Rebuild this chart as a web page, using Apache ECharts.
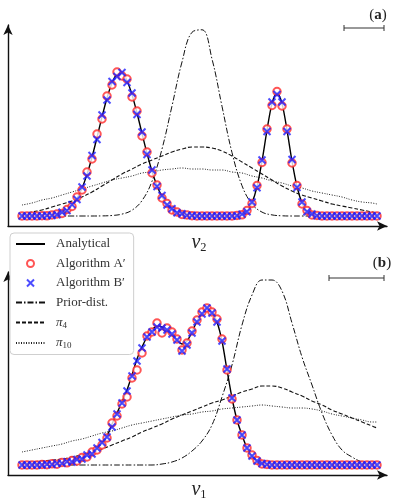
<!DOCTYPE html>
<html>
<head>
<meta charset="UTF-8">
<title>Analytical vs algorithms</title>
<style>
  html, body { margin: 0; padding: 0; background: #fff; }
  #chart { width: 399px; height: 504px; }
</style>
<script src="https://cdn.jsdelivr.net/npm/echarts@6/dist/echarts.min.js"></script>
</head>
<body>
<div id="chart"></div>
<script>
// marker grid: sample index 0..71 (one step = 5 px on screen)
const fineX = Array.from({ length: 72 }, (_, i) => i);
// coarser grid used for the broad curves
const coarseX = [0,2,4,6,8,10,12,14,16,18,20,22,24,26,28,30,32,34,36,38,40,42,44,46,48,50,52,54,56,58,60,62,64,66,68,70,71];

// ---- panel (a): marginal of v2 ----
const analyticA = [0,0,0,0.1,0.1,0.3,0.8,1.6,3.2,5.9,
  10.5,17.6,27.8,41.6,58.8,78.5,99.1,118,133,141.6,
  142.4,135.3,121.4,103,82.6,62.6,44.8,30.3,19.4,11.7,
  6.7,3.6,1.8,0.9,0.4,0.2,0,0,0,0,
  0,0,0.1,0.4,1.5,4.9,13.1,29.3,54.8,85.9,
  112.4,123,112.4,85.9,54.8,29.3,13.1,4.9,1.5,0.4,
  0,0,0,0,0,0,0,0,0,0,
  0,0];
const algA_A = [0,0,0,0,0.3,0.2,1,2,2.5,6.5,
  9.5,19,26,44,57,82,97,120,131,144,
  140,137,119,105,80,64,43,31,18,12.5,
  6,4,1.5,1,0.3,0,0,0,0,0,
  0,0,0,0.6,1.2,5.5,12.5,30.5,53.5,87,
  110.5,124.5,110,87,53,30.5,12,5.5,1,0.5,
  0,0,0,0,0,0,0,0,0,0,
  0,0];
const algB_A = [0,0,0,0,0,0.5,0.5,1.3,3.8,5.4,
  11.4,16.5,29,40,60.5,76.5,101,116,134.5,139.5,
  143.5,133.5,123,101.5,84,61.5,46,29.5,20.5,11,
  7.3,3.2,2.2,0.6,0.5,0,0,0,0,0,
  0,0,0,0.2,1.9,4.3,14,28.2,56,84.5,
  114,121.5,114,84.5,56.5,28.5,14,4.3,2,0.2,
  0,0,0,0,0,0,0,0,0,0,
  0,0];
const priorA = [0,0,0,0,0,0,0,0,0.1,0.5,
  1.9,5.8,15.4,34.7,67,110,154,183.7,186.2,157,
  109.7,63.4,30.3,12,3.9,1.1,0.2,0,0,0,
  0,0,0,0,0,0,0];
const pi4A = [2,4,6,9,12,15,19,24,30,36,
  42,47,52,56,60,64,67,69,69,68,
  65,60,54,48,42,36,30,25,21,18,
  15,12,10,8,6,4,3];
const pi10A = [11,13,16,18,21,24,27,30,33,36,
  38,40,43,44,46,47,48,47,47,46,
  46,44,43,40,38,35,33,30,28,25,
  23,21,19,16,14,13,12];

// ---- panel (b): marginal of v1 ----
const analyticB = [0,0,0,0,0.2,0.5,0.8,1.2,2,2.7,
  3.5,4.8,6.5,9,12,16,22,29,41,52,
  63,75,90,106,118,128,135,139,138,135,
  130,125,121,124,133,144,152,157,153,143,
  124,95,67,45,30,17,9,4,1.5,0.5,
  0,0,0,0,0,0,0,0,0,0,
  0,0,0,0,0,0,0,0,0,0,
  0,0];
const algA_B = [0,0,0,0,0.5,0.3,1.2,0.8,2.6,2.2,
  4.4,4,7.5,8,13,15,20,27,42,49,
  61,68,87,95,112,129,133,142,132,137,
  133,126,115,122,134,145,153,157,153,146,
  126,95,66,45,30,17,10,4.5,1,0.5,
  0,0,0,0,0,0,0,0,0,0,
  0,0,0,0,0,0,0,0,0,0,
  0,0];
const algB_B = [0,0,0,0,0,0.8,0.5,1.6,1.6,3.4,
  3,5.5,6,10,11,17,22.5,28,38,51,
  62,74,89,104,117,128,133,138,137,135,
  131,125,114,120,132,143,151,157,152,143,
  124,96,67,45,30,17,9,4,1.5,0.5,
  0,0,0,0,0,0,0,0,0,0,
  0,0,0,0,0,0,0,0,0,0,
  0,0];
const priorB = [0,0,0,0,0,0,0,0,0,0,
  0,0,0,0,1,3,7,14,24,40,
  68,100,140,170,185,185,174,142,108,80,
  52,30,15,8,3,1,0.5];
const pi4B = [2,3,4,5,6,8,10,13,16,20,
  24,28,33,37,41,46,50,54,58,62,
  65,69,73,76,79,79,77,73,69,64,
  60,55,51,47,43,39,37];
const pi10B = [13,15,17,19,21,24,26,29,32,34,
  37,40,42,44,46,48,50,51,53,54,
  56,57,58,59,60,59,58,57,57,56,
  54,51,49,47,45,43,43];

const seriesNames = ['Analytical', 'Algorithm A\u2032', 'Algorithm B\u2032', 'Prior-dist.', 'pi4', 'pi10'];

const serif = 'Liberation Serif';
const red = '#ff2b2b';
const blue = '#1f1fff';
const crossPath = 'path://M0,0L10,10M10,0L0,10';

function pairs(xs, ys) {
  return xs.map((x, i) => [x, ys[i]]);
}

function panelSeries(idx, analytic, algA, algB, prior, pi4, pi10) {
  const base = { xAxisIndex: idx, yAxisIndex: idx, animation: false };
  return [
    Object.assign({}, base, {
      name: seriesNames[0], type: 'line', data: pairs(fineX, analytic),
      symbol: 'none', smooth: 0.3, z: 3,
      lineStyle: { color: '#000', width: 1.4 }
    }),
    Object.assign({}, base, {
      name: seriesNames[1], type: 'scatter', data: pairs(fineX, algA),
      symbol: 'emptyCircle', symbolSize: 7.5, z: 4,
      itemStyle: { color: red, borderColor: red, borderWidth: 0.8 }
    }),
    Object.assign({}, base, {
      name: seriesNames[2], type: 'scatter', data: pairs(fineX, algB),
      symbol: crossPath, symbolSize: 7, z: 5,
      itemStyle: { color: 'rgba(0,0,0,0)', borderColor: blue, borderWidth: 2 }
    }),
    Object.assign({}, base, {
      name: seriesNames[3], type: 'line', data: pairs(coarseX, prior),
      symbol: 'none', smooth: 0.4, z: 2,
      lineStyle: { color: '#111', width: 1, type: [6, 2, 1.5, 2] }
    }),
    Object.assign({}, base, {
      name: seriesNames[4], type: 'line', data: pairs(coarseX, pi4),
      symbol: 'none', smooth: 0.4, z: 2,
      lineStyle: { color: '#111', width: 1.1, type: [4, 2] }
    }),
    Object.assign({}, base, {
      name: seriesNames[5], type: 'line', data: pairs(coarseX, pi10),
      symbol: 'none', smooth: 0.4, z: 2,
      lineStyle: { color: '#222', width: 1, type: [1, 1.5] }
    })
  ];
}

function xAxisFor(idx) {
  return {
    type: 'value', gridIndex: idx, min: -2.8, max: 73,
    axisLine: { show: true, onZero: false, symbol: ['none', 'arrow'], symbolSize: [7, 10],
      lineStyle: { color: '#111', width: 1.4 } },
    axisTick: { show: false }, axisLabel: { show: false }, splitLine: { show: false }
  };
}
function yAxisFor(idx, max) {
  return {
    type: 'value', gridIndex: idx, min: -10, max: max,
    axisLine: { show: true, onZero: false, symbol: ['none', 'arrow'], symbolSize: [7, 10],
      lineStyle: { color: '#111', width: 1.4 } },
    axisTick: { show: false }, axisLabel: { show: false }, splitLine: { show: false }
  };
}

function scaleBar(x1, x2, y) {
  const ls = { stroke: '#333', lineWidth: 1 };
  return [
    { type: 'line', shape: { x1: x1, y1: y, x2: x2, y2: y }, style: ls },
    { type: 'line', shape: { x1: x1, y1: y - 3, x2: x1, y2: y + 3 }, style: ls },
    { type: 'line', shape: { x1: x2, y1: y - 3, x2: x2, y2: y + 3 }, style: ls }
  ];
}

function label(x, y, text, size) {
  return {
    type: 'text', x: x, y: y, z: 10,
    style: {
      text: text, textAlign: 'center', textVerticalAlign: 'middle',
      fontFamily: serif, fontSize: size, fill: '#222',
      rich: {
        v: { fontFamily: serif, fontStyle: 'italic', fontSize: size, fill: '#222' },
        s: { fontFamily: serif, fontSize: size * 0.62, fill: '#222', padding: [9, 0, 0, 0] },
        b: { fontFamily: serif, fontWeight: 'bold', fontSize: size, fill: '#222' }
      }
    }
  };
}

// legend entries: hide the marker dot on line-type entries
const legendData = seriesNames.map(function (n, i) {
  if (i === 1 || i === 2) return { name: n };
  return { name: n, itemStyle: { opacity: 0 } };
});

const chart = echarts.init(document.getElementById('chart'), null, { renderer: 'canvas' });

chart.setOption({
  animation: false,
  backgroundColor: '#fff',
  grid: [
    { left: 8, top: 25, width: 379, height: 201 },
    { left: 8, top: 272, width: 379, height: 203 }
  ],
  xAxis: [xAxisFor(0), xAxisFor(1)],
  yAxis: [yAxisFor(0, 191), yAxisFor(1, 193)],
  legend: {
    orient: 'vertical', left: 10, top: 233, z: 20,
    padding: [4, 8, 4, 5],
    itemWidth: 29, itemHeight: 7, itemGap: 5.5,
    backgroundColor: '#fff', borderColor: '#cfcfcf', borderWidth: 1, borderRadius: 4,
    data: legendData,
    formatter: function (name) {
      if (name === 'pi4') return '{p|\u03c0}{s|4}';
      if (name === 'pi10') return '{p|\u03c0}{s|10}';
      return name;
    },
    textStyle: {
      fontFamily: serif, fontSize: 13, color: '#333', lineHeight: 14, padding: [0, 0, 0, 6],
      rich: {
        p: { fontFamily: serif, fontStyle: 'italic', fontSize: 13, color: '#333', lineHeight: 14 },
        s: { fontFamily: serif, fontSize: 9, color: '#333', padding: [6, 0, 0, 0], lineHeight: 14 }
      }
    }
  },
  graphic: [
    label(378, 15, '({b|a})', 15),
    label(382, 263, '({b|b})', 15),
    label(199, 243, '{v|v}{s|2}', 20),
    label(199, 490, '{v|v}{s|1}', 20)
  ].concat(scaleBar(344, 384, 28), scaleBar(329, 384, 278)),
  series: panelSeries(0, analyticA, algA_A, algB_A, priorA, pi4A, pi10A)
    .concat(panelSeries(1, analyticB, algA_B, algB_B, priorB, pi4B, pi10B))
});
</script>
</body>
</html>
